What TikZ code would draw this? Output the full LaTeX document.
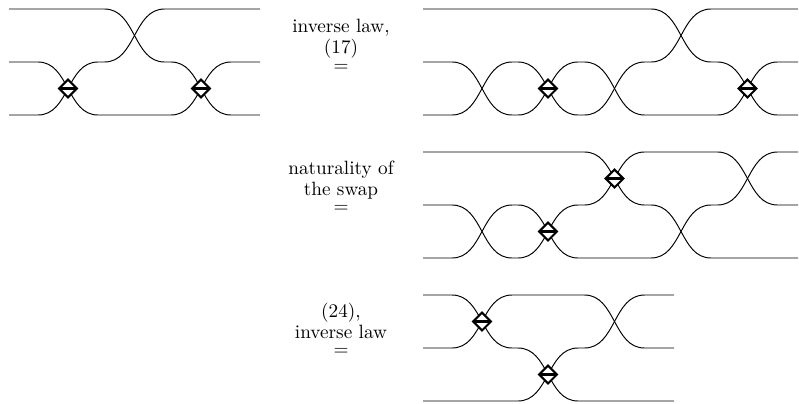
\documentclass[tikz,border=0pt]{standalone}
\usepackage{amsmath}
\usetikzlibrary{positioning,shapes.geometric}
\tikzset{
  wire/.style={line width=0.5pt},
  xover/.style={out=0,in=180},
  gate/.style={diamond,draw,line width=1.1pt,fill=white,
    inner sep=0pt,minimum size=9.8pt,
    path picture={\draw[line width=1.1pt]
      (path picture bounding box.west)--(path picture bounding box.east);}},
  lab/.style={align=center,inner sep=0pt,
    font=\fontsize{10}{10.7}\selectfont},
  eqsign/.style={inner sep=0pt}
}

\begin{document}
\begin{tikzpicture}[x=0.52pt,y=-0.52pt]
  \useasboundingbox (0,0) rectangle (799,403);
  \draw[wire] (9,9)--(104.5,9) to[xover] (164.5,62)--(171,62) to[xover] (231,115)--(260,115);
  \draw[wire] (9,62)--(38,62) to[xover] (98,115)--(171,115) to[xover] (231,62)--(260,62);
  \draw[wire] (9,115)--(38,115) to[xover] (98,62)--(104.5,62) to[xover] (164.5,9)--(260,9);
  \node[gate] (g1) at (68,88.5) {};
  \node[gate] (g2) at (201,88.5) {};

  \node[eqsign] (eq1) at (341,68) {$=$};
  \node[lab,anchor=base] (lab1) at (341,53) {inverse law,\\(17)};

  \draw[wire] (423,62)--(452,62) to[xover] (512,115)--(518,115) to[xover] (578,62)--(584.5,62) to[xover] (644.5,115)--(717.5,115) to[xover] (777.5,62)--(798,62);
  \draw[wire] (423,115)--(452,115) to[xover] (512,62)--(518,62) to[xover] (578,115)--(584.5,115) to[xover] (644.5,62)--(651,62) to[xover] (711,9)--(798,9);
  \draw[wire] (423,9)--(651,9) to[xover] (711,62)--(717.5,62) to[xover] (777.5,115)--(798,115);
  \node[gate] (g3) at (548,88.5) {};
  \node[gate] (g4) at (747.5,88.5) {};

  \node[eqsign] (eq2) at (341,209) {$=$};
  \node[lab,anchor=base] (lab2) at (341,195) {naturality of\\the swap};

  \draw[wire] (423,205)--(452,205) to[xover] (512,258)--(518,258) to[xover] (578,205)--(584.5,205) to[xover] (644.5,152)--(717.5,152) to[xover] (777.5,205)--(798,205);
  \draw[wire] (423,258)--(452,258) to[xover] (512,205)--(518,205) to[xover] (578,258)--(651,258) to[xover] (711,205)--(717.5,205) to[xover] (777.5,152)--(798,152);
  \draw[wire] (423,152)--(584.5,152) to[xover] (644.5,205)--(651,205) to[xover] (711,258)--(798,258);
  \node[gate] (g5) at (548,231.5) {};
  \node[gate] (g6) at (614.5,178.5) {};

  \node[eqsign] (eq3) at (341,352) {$=$};
  \node[lab,anchor=base] (lab3) at (341,338) {(24),\\inverse law};

  \draw[wire] (423,295)--(452,295) to[xover] (512,348)--(518,348) to[xover] (578,401)--(674,401);
  \draw[wire] (423,348)--(452,348) to[xover] (512,295)--(584.5,295) to[xover] (644.5,348)--(674,348);
  \draw[wire] (423,401)--(518,401) to[xover] (578,348)--(584.5,348) to[xover] (644.5,295)--(674,295);
  \node[gate] (g7) at (482,321.5) {};
  \node[gate] (g8) at (548,374.5) {};
\end{tikzpicture}
\end{document}
